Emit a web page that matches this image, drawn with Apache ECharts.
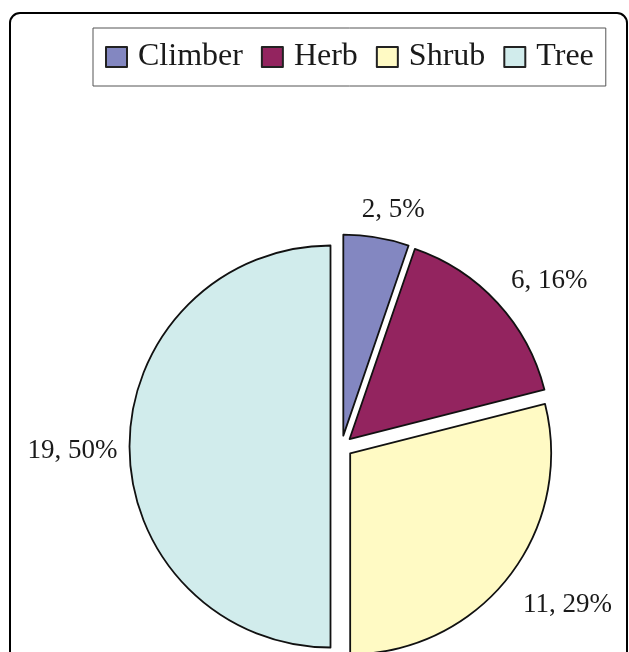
<!DOCTYPE html>
<html>
<head>
<meta charset="utf-8">
<script src="https://cdn.jsdelivr.net/npm/echarts@6/dist/echarts.min.js"></script>
<style>
html,body{margin:0;padding:0;background:#fff;}
#chart{width:629px;height:652px;}
</style>
</head>
<body>
<div id="chart"></div>
<script>
// ---- data ----
var categories = ['Climber', 'Herb', 'Shrub', 'Tree'];
var counts = [2, 6, 11, 19];

// ---- styles ----
var colors = ['#8387C1', '#93245F', '#FFFAC4', '#D1ECEC'];
var labelNudge = [[8, 26], [12, 15], [16, -5], [-3, 4]];

var chart = echarts.init(document.getElementById('chart'), null, {renderer: 'canvas'});

function buildData() {
  return categories.map(function (c, i) {
    return {name: c, value: counts[i], selected: true, itemStyle: {color: colors[i]}};
  });
}

var serif = '"Liberation Serif", "Times New Roman", serif';

var option = {
  animation: false,
  backgroundColor: '#ffffff',
  graphic: [{
    type: 'rect',
    shape: {x: 10, y: 13, width: 617, height: 720, r: 10},
    style: {fill: 'none', stroke: '#000', lineWidth: 2},
    silent: true,
    z: -10
  }],
  legend: {
    data: categories,
    left: 93,
    top: 28,
    orient: 'horizontal',
    itemWidth: 21,
    itemHeight: 20,
    itemGap: 18,
    padding: [12, 12, 12, 12],
    borderColor: '#555',
    borderWidth: 1,
    icon: 'rect',
    itemStyle: {borderColor: '#222', borderWidth: 2},
    textStyle: {fontFamily: serif, fontSize: 32, color: '#1a1a1a', lineHeight: 34, padding: [0, 0, 0, 6]},
    selectedMode: false
  },
  series: [{
    type: 'pie',
    name: 'main',
    center: [341.5, 446.5],
    radius: [0, 201],
    startAngle: 90,
    clockwise: true,
    selectedMode: 'multiple',
    selectedOffset: 11,
    avoidLabelOverlap: false,
    itemStyle: {borderColor: '#111', borderWidth: 1.8},
    label: {show: false},
    labelLine: {show: false},
    emphasis: {disabled: true},
    silent: true,
    data: buildData()
  }, {
    type: 'pie',
    name: 'labels',
    center: [341.5, 446.5],
    radius: [242, 262],
    startAngle: 90,
    clockwise: true,
    selectedMode: 'multiple',
    selectedOffset: 11,
    avoidLabelOverlap: false,
    percentPrecision: 0,
    itemStyle: {color: 'rgba(0,0,0,0)', borderWidth: 0},
    label: {
      show: true,
      position: 'inside',
      formatter: '{c}, {d}%',
      fontFamily: serif,
      fontSize: 27,
      color: '#1a1a1a'
    },
    labelLine: {show: false},
    labelLayout: function (p) {
      return {dx: labelNudge[p.dataIndex][0], dy: labelNudge[p.dataIndex][1]};
    },
    emphasis: {disabled: true},
    silent: true,
    data: categories.map(function (c, i) {
      return {name: c, value: counts[i], selected: true};
    })
  }]
};
chart.setOption(option);
</script>
</body>
</html>
